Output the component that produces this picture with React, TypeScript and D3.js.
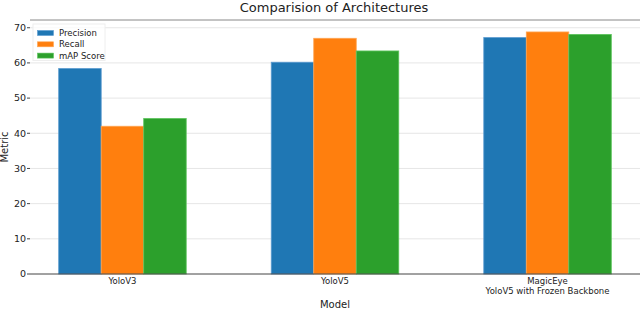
import React from 'react'
import * as d3 from 'd3'

const models = ['YoloV3', 'YoloV5', 'MagicEye\nYoloV5 with Frozen Backbone']
const metrics = ['Precision', 'Recall', 'mAP Score']
const precision = [58.4, 60.2, 67.2]
const recall = [42.0, 67.0, 68.8]
const mapScore = [44.2, 63.4, 68.1]
const yTicks = [0, 10, 20, 30, 40, 50, 60, 70]

const colors = ['#1f77b4', '#ff7f0e', '#2ca02c']
const edges = ['#5b9bd0', '#ffa552', '#5cc45c']

const App = () => {
  const width = 640
  const height = 310
  const margin = {top: 20, right: 0, bottom: 36, left: 30}
  const font = 'DejaVu Sans, sans-serif'

  const series = [precision, recall, mapScore]

  const x = d3.scaleBand()
    .domain(models)
    .range([margin.left, width - margin.right])
    .paddingInner(0.4)
    .paddingOuter(0.135)

  const xInner = d3.scaleBand()
    .domain(metrics)
    .range([0, x.bandwidth()])

  const y = d3.scaleLinear()
    .domain([0, 72.2])
    .range([height - margin.bottom, margin.top])

  const y0 = y(0)

  return (
    <svg width={width} height={height} style={{position: 'absolute', left: 0, top: 0}}>
      <rect width={width} height={height} fill="white" />
      <g>
        {yTicks.slice(1).map(t => (
          <line key={t} x1={margin.left} x2={width} y1={y(t)} y2={y(t)} stroke="#e6e6e6" strokeWidth={1} />
        ))}
      </g>
      <line x1={margin.left} x2={width} y1={margin.top} y2={margin.top} stroke="#888" strokeWidth={1} />
      <g>
        {models.map((m, i) => (
          <g key={m} transform={`translate(${x(m)},0)`}>
            {metrics.map((s, j) => (
              <rect key={s}
                x={xInner(s)}
                y={y(series[j][i])}
                width={xInner.bandwidth()}
                height={y0 - y(series[j][i])}
                fill={colors[j]}
                stroke={edges[j]}
                strokeWidth={0.8} />
            ))}
          </g>
        ))}
      </g>
      <line x1={margin.left} x2={width} y1={y0} y2={y0} stroke="#444" strokeWidth={1} />
      <g fontFamily={font} fontSize={9.5} fill="#222">
        {yTicks.map(t => (
          <g key={t}>
            <line x1={margin.left - 3} x2={margin.left} y1={y(t)} y2={y(t)} stroke="#444" />
            <text x={margin.left - 4} y={y(t)} dy="0.35em" textAnchor="end">{t}</text>
          </g>
        ))}
        {models.map(m => (
          <text key={m} x={x(m) + x.bandwidth() / 2} y={y0 + 10} textAnchor="middle" fontSize={8.5}>
            {m.split('\n').map((line, k) => (
              <tspan key={k} x={x(m) + x.bandwidth() / 2} dy={k === 0 ? 0 : 10}>{line}</tspan>
            ))}
          </text>
        ))}
      </g>
      <text x={334} y={12} textAnchor="middle" fontFamily={font} fontSize={13} fill="#222">Comparision of Architectures</text>
      <text x={335} y={308} textAnchor="middle" fontFamily={font} fontSize={10} fill="#222">Model</text>
      <text transform={`translate(8,${(margin.top + y0) / 2}) rotate(-90)`} textAnchor="middle" fontFamily={font} fontSize={10} fill="#222">Metric</text>
      <g transform="translate(33,24)" fontFamily={font} fontSize={8.5}>
        <rect width={72} height={36.5} fill="white" fillOpacity={0.8} stroke="#eee" />
        {metrics.map((s, j) => (
          <g key={s} transform={`translate(4.5,${6.5 + j * 11.3})`}>
            <rect width={16} height={5} fill={colors[j]} stroke={edges[j]} strokeWidth={0.6} />
            <text x={21.5} y={2.5} dy="0.35em" fill="#222">{s}</text>
          </g>
        ))}
      </g>
    </svg>
  )
}

export default App
